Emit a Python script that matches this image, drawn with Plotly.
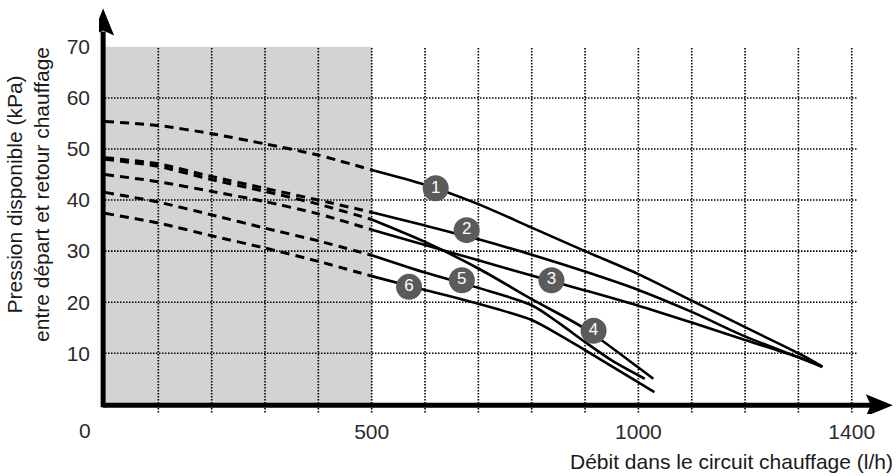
import plotly.graph_objects as go

# ---------------- data ----------------
x_dashed = [0, 100, 200, 300, 400, 500]

c1_dash = [55.4, 54.6, 53.0, 51.0, 48.8, 45.9]
c2_dash = [48.3, 47.1, 44.6, 42.3, 40.0, 37.6]
c3_dash = [45.0, 43.6, 41.7, 39.7, 37.3, 34.2]
c4_dash = [48.0, 46.6, 44.0, 41.7, 39.2, 36.2]
c5_dash = [41.5, 39.6, 37.1, 34.5, 32.0, 29.2]
c6_dash = [37.4, 35.5, 33.0, 30.6, 28.0, 25.1]

c1_x = [500, 600, 700, 800, 900, 1000, 1100, 1200, 1300, 1345]
c1_y = [45.9, 43.0, 39.2, 34.6, 30.0, 25.5, 20.3, 15.1, 10.0, 7.4]
c2_x = [500, 600, 700, 800, 900, 1000, 1100, 1200, 1300, 1345]
c2_y = [37.6, 35.0, 32.3, 29.3, 26.0, 22.4, 18.1, 13.3, 9.2, 7.4]
c3_x = [500, 600, 700, 800, 900, 1000, 1100, 1200, 1300, 1345]
c3_y = [34.2, 31.2, 28.2, 25.2, 22.3, 19.3, 16.0, 12.6, 9.2, 7.3]
c4_x = [500, 600, 700, 800, 900, 1000, 1028]
c4_y = [36.2, 31.8, 26.6, 20.6, 14.8, 7.2, 5.0]
c5_x = [500, 600, 700, 800, 850, 900, 950, 1012]
c5_y = [29.2, 25.8, 22.8, 19.4, 16.0, 12.2, 8.6, 5.0]
c6_x = [500, 600, 700, 750, 800, 850, 900, 1000, 1030]
c6_y = [25.1, 22.4, 19.7, 18.2, 16.5, 13.7, 10.6, 4.3, 2.4]

label_names = ["1", "2", "3", "4", "5", "6"]
label_x = [620, 678, 837, 916, 669, 570]
label_y = [42.3, 34.1, 24.3, 14.4, 24.3, 23.0]

y_ticks = [10, 20, 30, 40, 50, 60, 70]
x_ticks = [500, 1000, 1400]
x_grid = list(range(100, 1500, 100))
y_grid = [10, 20, 30, 40, 50, 60]

x_title = "Débit dans le circuit chauffage (l/h)"
y_title = "Pression disponible (kPa)<br>entre départ et retour chauffage"

# ---------------- figure ----------------
FONT = "Liberation Sans, Arial, sans-serif"
TXT = "#2b2b2b"

fig = go.Figure()

dashed = [c1_dash, c2_dash, c3_dash, c4_dash, c5_dash, c6_dash]
solids = [(c1_x, c1_y), (c2_x, c2_y), (c3_x, c3_y), (c4_x, c4_y), (c5_x, c5_y), (c6_x, c6_y)]

for yd in dashed:
    fig.add_trace(go.Scatter(x=x_dashed, y=yd, mode="lines",
                             line=dict(color="black", width=3, dash="9px,6px", shape="spline", smoothing=0.6),
                             hoverinfo="skip", showlegend=False))
for xs, ys in solids:
    fig.add_trace(go.Scatter(x=xs, y=ys, mode="lines",
                             line=dict(color="black", width=2.6, shape="spline", smoothing=0.8),
                             hoverinfo="skip", showlegend=False))

fig.add_trace(go.Scatter(x=label_x, y=label_y, mode="markers+text", text=label_names,
                         textposition="middle center",
                         textfont=dict(color="white", size=17, family=FONT),
                         marker=dict(size=26, color="#5b5b5b", line=dict(width=0)),
                         hoverinfo="skip", showlegend=False))

shapes = []
# grey zone
shapes.append(dict(type="rect", xref="x", yref="y", x0=0, x1=500, y0=0, y1=70,
                   fillcolor="#d1d3d4", line=dict(width=0), layer="below"))
# grid
for gx in x_grid:
    shapes.append(dict(type="line", xref="x", yref="y", x0=gx, x1=gx, y0=-1.6, y1=70,
                       line=dict(color="black", width=1.6, dash="1.5px,1.5px"), layer="below"))
for gy in y_grid:
    shapes.append(dict(type="line", xref="x", yref="y", x0=0, x1=1410, y0=gy, y1=gy,
                       line=dict(color="black", width=1.6, dash="1.5px,1.5px"), layer="below"))
# axes
shapes.append(dict(type="line", xref="x", yref="y", x0=-4, x1=1440, y0=-0.2, y1=-0.2,
                   line=dict(color="black", width=5), layer="above"))
shapes.append(dict(type="line", xref="x", yref="y", x0=-3.5, x1=-3.5, y0=-0.6, y1=73,
                   line=dict(color="black", width=5), layer="above"))
# arrowheads
shapes.append(dict(type="path", xref="x", yref="y", xsizemode="pixel", ysizemode="pixel",
                   xanchor=-3.5, yanchor=77.5,
                   path="M 0 0 L -11 -27 L 0 -22 L 11 -27 Z",
                   fillcolor="black", line=dict(width=0), layer="above"))
shapes.append(dict(type="path", xref="x", yref="y", xsizemode="pixel", ysizemode="pixel",
                   xanchor=1477, yanchor=-0.2,
                   path="M 0 0 L -27 11 L -22 0 L -27 -11 Z",
                   fillcolor="black", line=dict(width=0), layer="above"))

annotations = [
    dict(text="0", xref="x", yref="paper", x=0, y=0, xanchor="center", yanchor="top",
         xshift=-20, yshift=-3, showarrow=False, font=dict(size=21, color=TXT, family=FONT)),
    dict(text=x_title, xref="paper", yref="paper", x=1, y=0, xanchor="right", yanchor="middle",
         xshift=-1, yshift=-47, showarrow=False, font=dict(size=21, color="#1a1a1a", family=FONT)),
    dict(text=y_title, xref="paper", yref="y", x=0, y=41, xanchor="center", yanchor="middle",
         xshift=-71, textangle=-90, showarrow=False, align="center",
         font=dict(size=21, color="#1a1a1a", family=FONT)),
]

fig.update_layout(
    width=896, height=476,
    margin=dict(l=99, r=0, t=5, b=62),
    paper_bgcolor="white", plot_bgcolor="white",
    shapes=shapes, annotations=annotations,
    xaxis=dict(range=[-11.25, 1483], tickvals=x_ticks, ticktext=[str(v) for v in x_ticks],
               showgrid=False, zeroline=False, showline=False, ticks="",
               ticklabelstandoff=3, tickfont=dict(size=21, color=TXT, family=FONT)),
    yaxis=dict(range=[-1.9, 78.2], tickvals=y_ticks, ticktext=[str(v) for v in y_ticks],
               showgrid=False, zeroline=False, showline=False, ticks="",
               ticklabelstandoff=8, tickfont=dict(size=21, color=TXT, family=FONT)),
    font=dict(family=FONT),
)

fig.write_html("out.html")
